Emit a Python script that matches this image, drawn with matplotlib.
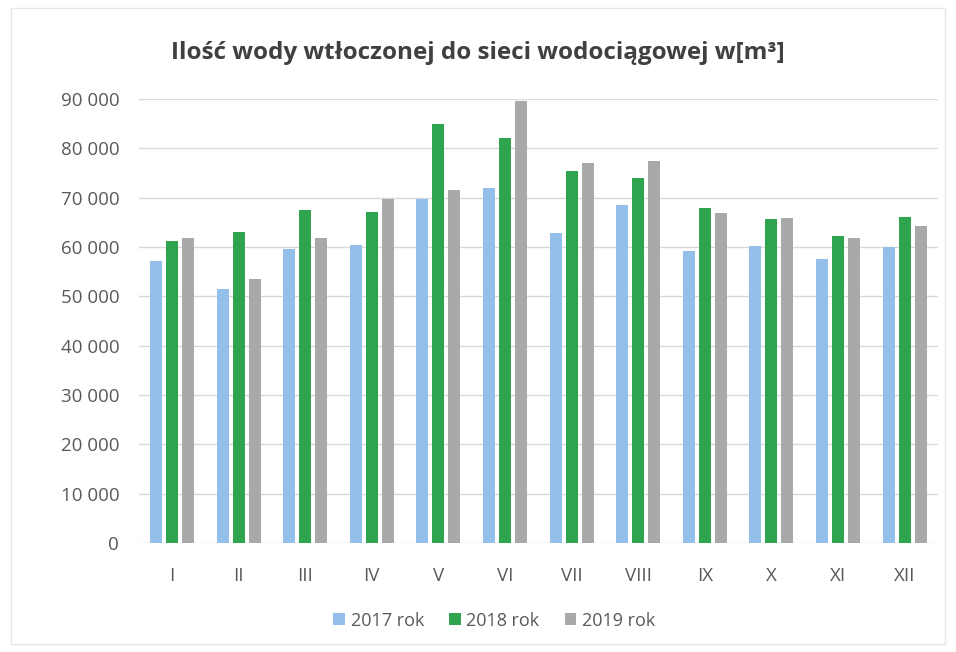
import matplotlib
matplotlib.use("Agg")
import matplotlib.pyplot as plt
import numpy as np
from matplotlib.ticker import FuncFormatter
from matplotlib.patches import Rectangle

months = ["I", "II", "III", "IV", "V", "VI", "VII", "VIII", "IX", "X", "XI", "XII"]
series_names = ["2017 rok", "2018 rok", "2019 rok"]
v2017 = [57100, 51600, 59600, 60400, 69700, 72000, 62800, 68500, 59200, 60200, 57600, 60100]
v2018 = [61200, 63000, 67600, 67100, 84900, 82200, 75400, 74100, 67900, 65600, 62300, 66200]
v2019 = [61800, 53500, 61800, 69700, 71500, 89700, 77000, 77400, 67000, 66000, 61800, 64300]
colors = ["#94BFEA", "#2EA44F", "#A9A9A9"]

plt.rcParams['font.family'] = ['Open Sans', 'DejaVu Sans']

fig = plt.figure(figsize=(9.56, 6.52), dpi=100)
ax = fig.add_axes([0.145, 0.167, 0.836, 0.681])

x = np.arange(len(months))
w = 0.18
off = 0.24
for i, (vals, c, n) in enumerate(zip([v2017, v2018, v2019], colors, series_names)):
    ax.bar(x + (i - 1) * off, vals, width=w, color=c, label=n, zorder=3)

ax.set_xlim(-0.5, len(months) - 0.5)
ax.set_ylim(0, 90000)
ax.set_yticks(np.arange(0, 90001, 10000))
ax.yaxis.set_major_formatter(FuncFormatter(lambda v, p: f"{int(v):,}".replace(",", " ")))
ax.set_xticks(x)
ax.set_xticklabels(months)
ax.grid(axis='y', color='#D9D9D9', linewidth=1, zorder=0)
for s in ax.spines.values():
    s.set_visible(False)
ax.tick_params(axis='both', length=0, labelsize=13.5, labelcolor='#595959')
ax.tick_params(axis='y', pad=14)
ax.tick_params(axis='x', pad=17)

fig.text(0.5, 0.918, "Ilość wody wtłoczonej do sieci wodociągowej w[m³]",
         ha='center', va='center', fontsize=17.5, fontweight='bold', color='#404040')

leg = fig.legend(loc='center', bbox_to_anchor=(0.517, 0.048), ncol=3, frameon=False,
                 fontsize=13, handlelength=0.65, handleheight=0.65, handletextpad=0.3,
                 columnspacing=1.4)
for t in leg.get_texts():
    t.set_color('#595959')

fig.patches.append(Rectangle((0.012, 0.012), 0.976, 0.976, transform=fig.transFigure,
                             fill=False, edgecolor='#E6E6E6', linewidth=1))

fig.savefig("out.png", dpi=100)
